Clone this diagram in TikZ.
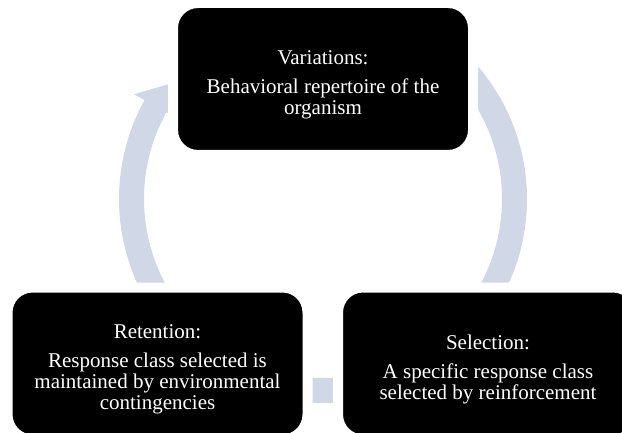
\documentclass[tikz,border=0pt]{standalone}
\usepackage{fontspec}
\setmainfont{Liberation Serif}
\definecolor{cyclefill}{RGB}{208,216,232}
\tikzset{
  stagebox/.style={fill=black, draw=white, line width=10pt, rounded corners=25pt,
    minimum width=300pt, minimum height=152pt, inner sep=0pt,
    text=white, align=center, font=\fontsize{21}{21}\selectfont},
}
% title line of a stage, a little lowered
\newcommand{\stagetitle}[1]{\rule{0pt}{26pt}#1\\[8pt]}
% band of the cycle: start angle, end of shaft, tip of head
\newcommand{\cyclearrow}[3]{%
  \fill [cyclefill] (#1:204) arc [start angle=#1, end angle=#2, radius=204]
    -- (#2:216) -- (#3:191.5) -- (#2:167) -- (#2:179)
    arc [start angle=#2, end angle=#1, radius=179] -- cycle;}
\begin{document}
\begin{tikzpicture}[x=1pt, y=1pt]
    \useasboundingbox (0, 0) rectangle (622, 432);

    % круговые стрелки
    \begin{scope}[shift={(323, 233)}]
        \cyclearrow{60}{-36}{-44}
        \cyclearrow{-60}{-105}{-113}
        \cyclearrow{220}{151}{143}
    \end{scope}

    % этапы
    \node [stagebox] (variations) at ( 323, 353 ) {\stagetitle{Variations:} Behavioral repertoire of the\\ organism};
    \node [stagebox] (selection) at ( 488, 68.5 ) {\stagetitle{Selection:} A specific response class\\ selected by reinforcement};
    \node [stagebox] (retention) at ( 157.5, 68.5 ) {\stagetitle{Retention:} Response class selected is\\ maintained by environmental\\ contingencies};
\end{tikzpicture}
\end{document}
